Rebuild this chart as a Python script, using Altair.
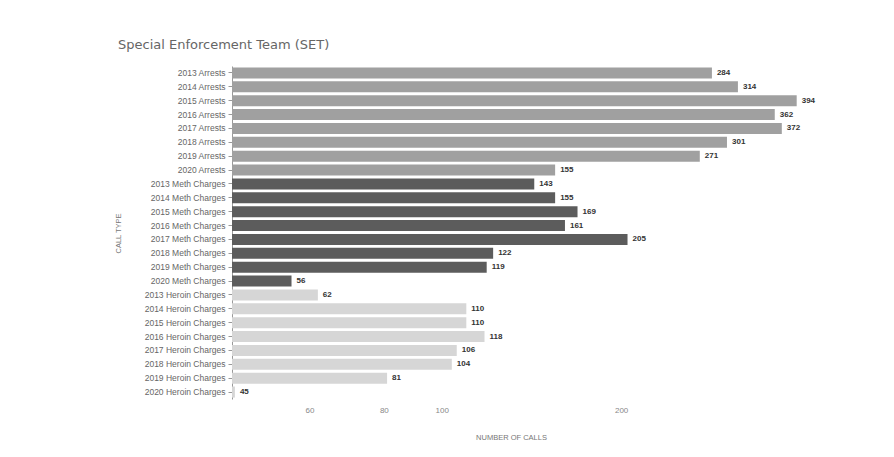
import altair as alt
import pandas as pd

years = [2013, 2014, 2015, 2016, 2017, 2018, 2019, 2020]
call_types = ["Arrests", "Meth Charges", "Heroin Charges"]
arrests = [284, 314, 394, 362, 372, 301, 271, 155]
meth_charges = [143, 155, 169, 161, 205, 122, 119, 56]
heroin_charges = [62, 110, 110, 118, 106, 104, 81, 45]
type_colors = ["#a0a0a0", "#5c5c5c", "#d6d6d6"]
x_ticks = [60, 80, 100, 200]
x_domain = [44.5, 410]

rows = []
for t, vals in zip(call_types, [arrests, meth_charges, heroin_charges]):
    for y, v in zip(years, vals):
        rows.append({"label": f"{y} {t}", "type": t, "value": v})
df = pd.DataFrame(rows)
order = list(df["label"])

FONT = "Liberation Sans"

base = alt.Chart(df).encode(
    y=alt.Y(
        "label:N",
        sort=order,
        scale=alt.Scale(paddingInner=0.2, paddingOuter=0.1),
        axis=alt.Axis(
            title="CALL TYPE",
            labelFontSize=8.5,
            labelColor="#666666",
            labelFont=FONT,
            tickSize=4,
            tickColor="#999999",
            domainColor="#999999",
            labelPadding=3,
            titleFontSize=7.5,
            titleFontWeight="normal",
            titleColor="#777777",
            titleFont=FONT,
            titleX=-114,
            titleY=167,
            titleAngle=270,
            titleAlign="center",
            titleBaseline="middle",
        ),
    ),
    x=alt.X(
        "value:Q",
        scale=alt.Scale(type="log", domain=x_domain),
        axis=alt.Axis(
            values=x_ticks,
            format="d",
            grid=False,
            domain=False,
            ticks=False,
            labelFontSize=8,
            labelColor="#888888",
            labelFont=FONT,
            labelPadding=7,
            title="NUMBER OF CALLS",
            titleFontSize=7.5,
            titleFontWeight="normal",
            titleColor="#777777",
            titleFont=FONT,
            titleX=279,
            titleY=38,
            titleBaseline="middle",
        ),
    ),
)

bars = base.mark_bar().encode(
    x2=alt.X2(datum=x_domain[0]),
    color=alt.Color(
        "type:N",
        scale=alt.Scale(domain=call_types, range=type_colors),
        legend=None,
    ),
)

labels = base.mark_text(
    align="left", baseline="middle", dx=5, fontSize=8, fontWeight="bold",
    color="#333333", font=FONT
).encode(text="value:Q")

chart = (
    alt.layer(bars, labels)
    .properties(
        width=575,
        height=333,
        autosize=alt.AutoSizeParams(type="none"),
        padding={"left": 224, "top": 58, "right": 79, "bottom": 50},
        background="white",
        title=alt.Title(
            "Special Enforcement Team (SET)",
            anchor="start",
            dx=4,
            offset=14,
            fontSize=13,
            fontWeight="normal",
            color="#666666",
            font="DejaVu Sans",
        ),
    )
    .configure_view(stroke=None)
)

chart.save("out.html", embed_options={"renderer": "svg", "actions": False})
